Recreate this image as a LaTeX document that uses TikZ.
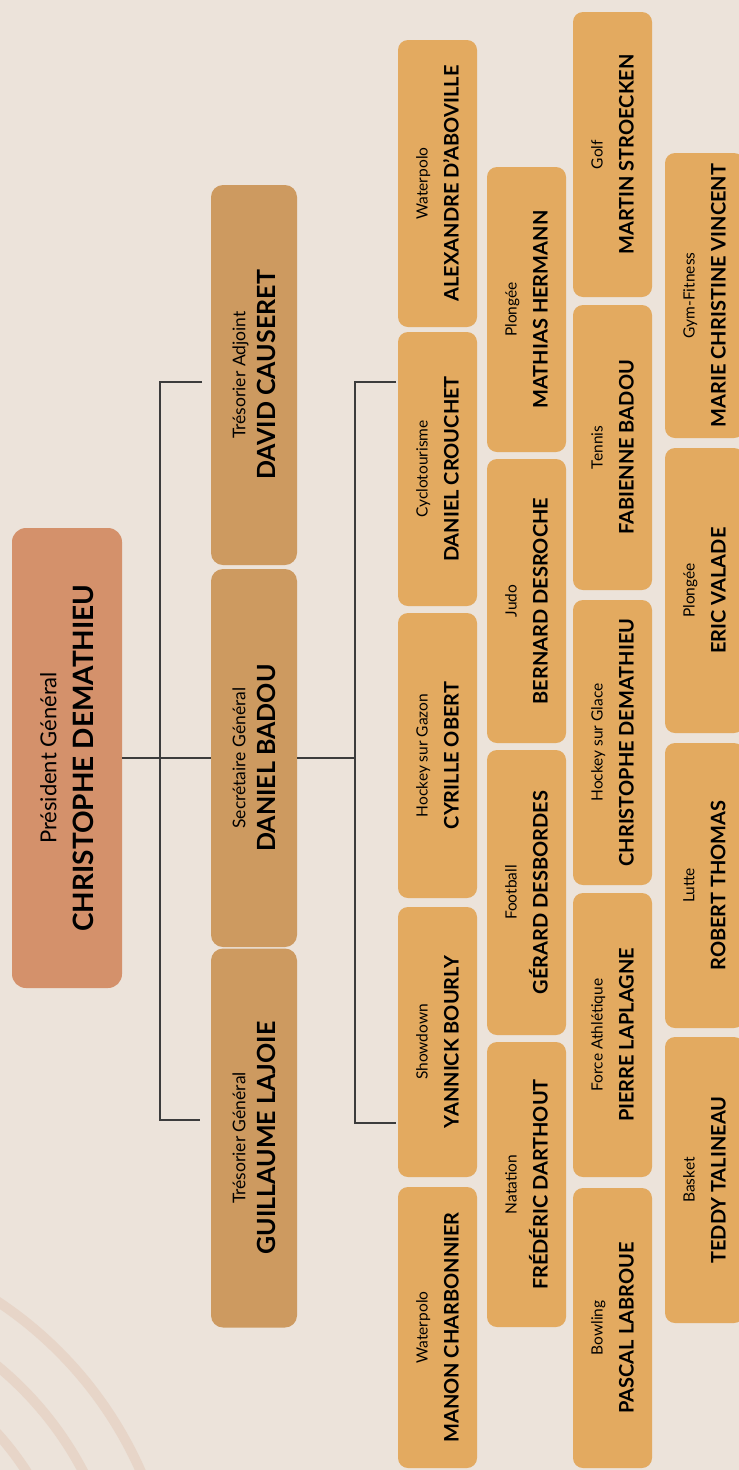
\documentclass[tikz,border=0pt]{standalone}
\usepackage{fontspec}
\setmainfont{Lato}

\definecolor{bgcol}{HTML}{ECE3DA}
\definecolor{arccol}{HTML}{E7D5C8}
\definecolor{prescol}{HTML}{D4916B}
\definecolor{boardcol}{HTML}{CD9A60}
\definecolor{sportcol}{HTML}{E3AA60}
\definecolor{linecol}{HTML}{3C3C3C}

\begin{document}
\begin{tikzpicture}[
        x=1pt, y=-1pt,
        box/.style={rotate=90, inner sep=0pt, align=center, text=black},
        presbox/.style={box, fill=prescol, rounded corners=14pt, minimum height=110pt, font=\bfseries\fontsize{28}{37}\selectfont},
        boardbox/.style={box, fill=boardcol, rounded corners=12pt, minimum height=86pt, font=\bfseries\fontsize{25}{30}\selectfont},
        sportbox/.style={box, fill=sportcol, rounded corners=10pt, minimum height=79pt, font=\bfseries\fontsize{20}{31}\selectfont},
        link/.style={draw=linecol, line width=1.5pt},
        ring/.style={draw=arccol, line width=10pt}
    ]

    % background and rings
    \useasboundingbox (0,0) rectangle (739,1470);
    \fill[bgcol] (0,0) rectangle (739,1470);
    \foreach \r in {293,342,394}
        \draw[ring] (-220,1630) circle (\r pt);

    % ==========================================
    % LEVEL 0: President
    % ==========================================
    \node[presbox, minimum width=460pt] (pres) at (67,758) {{\mdseries\fontsize{22}{24}\selectfont Président Général}\\CHRISTOPHE DEMATHIEU};

    % ==========================================
    % LEVEL 1: Bureau
    % ==========================================
    \node[boardbox, minimum width=380pt] (adj) at (254,375) {{\mdseries\fontsize{17.5}{20}\selectfont Trésorier Adjoint}\\DAVID CAUSERET};
    \node[boardbox, minimum width=378pt] (sec) at (254,758) {{\mdseries\fontsize{17.5}{20}\selectfont Secrétaire Général}\\DANIEL BADOU};
    \node[boardbox, minimum width=379pt] (tres) at (254,1138) {{\mdseries\fontsize{17.5}{20}\selectfont Trésorier Général}\\GUILLAUME LAJOIE};

    \coordinate (t1a) at (202,382);
    \coordinate (t1b) at (200,1120);
    \draw[link] (pres.south) -- (sec.north);
    \draw[link] (t1a) -- ++(-42,0) |- (t1b);

    % ==========================================
    % LEVEL 2: Sections
    % ==========================================
    \coordinate (t2a) at (396,382);
    \coordinate (t2b) at (396,1123);
    \draw[link] (sec.south) -- ++(58,0);
    \draw[link] (t2a) -- ++(-41,0) |- (t2b);

    % column 1
    \node[sportbox, minimum width=287pt] (aboville) at (437.5,183.5) {{\mdseries\fontsize{15.5}{17}\selectfont Waterpolo}\\ALEXANDRE D'ABOVILLE};
    \node[sportbox, minimum width=274pt] (crouchet) at (437.5,469) {{\mdseries\fontsize{15.5}{17}\selectfont Cyclotourisme}\\DANIEL CROUCHET};
    \node[sportbox, minimum width=285pt] (obert) at (437.5,755.5) {{\mdseries\fontsize{15.5}{17}\selectfont Hockey sur Gazon}\\CYRILLE OBERT};
    \node[sportbox, minimum width=270pt] (bourly) at (437.5,1042) {{\mdseries\fontsize{15.5}{17}\selectfont Showdown}\\YANNICK BOURLY};
    \node[sportbox, minimum width=281pt] (charbonnier) at (437.5,1327.5) {{\mdseries\fontsize{15.5}{17}\selectfont Waterpolo}\\MANON CHARBONNIER};

    % column 2
    \node[sportbox, minimum width=285pt] (hermann) at (526.5,309.5) {{\mdseries\fontsize{15.5}{17}\selectfont Plongée}\\MATHIAS HERMANN};
    \node[sportbox, minimum width=284pt] (desroche) at (526.5,601) {{\mdseries\fontsize{15.5}{17}\selectfont Judo}\\BERNARD DESROCHE};
    \node[sportbox, minimum width=285pt] (desbordes) at (526.5,892.5) {{\mdseries\fontsize{15.5}{17}\selectfont Football}\\GÉRARD DESBORDES};
    \node[sportbox, minimum width=285pt] (darthout) at (526.5,1184.5) {{\mdseries\fontsize{15.5}{17}\selectfont Natation}\\FRÉDÉRIC DARTHOUT};

    % column 3
    \node[sportbox, minimum width=285pt] (stroecken) at (612.5,154.5) {{\mdseries\fontsize{15.5}{17}\selectfont Golf}\\MARTIN STROECKEN};
    \node[sportbox, minimum width=285pt] (fbadou) at (612.5,447.5) {{\mdseries\fontsize{15.5}{17}\selectfont Tennis}\\FABIENNE BADOU};
    \node[sportbox, minimum width=285pt] (demathieu) at (612.5,742.5) {{\mdseries\fontsize{15.5}{17}\selectfont Hockey sur Glace}\\CHRISTOPHE DEMATHIEU};
    \node[sportbox, minimum width=284pt] (laplagne) at (612.5,1035) {{\mdseries\fontsize{15.5}{17}\selectfont Force Athlétique}\\PIERRE LAPLAGNE};
    \node[sportbox, minimum width=280pt] (labroue) at (612.5,1328) {{\mdseries\fontsize{15.5}{17}\selectfont Bowling}\\PASCAL LABROUE};

    % column 4
    \node[sportbox, minimum width=285pt] (vincent) at (704.5,295.5) {{\mdseries\fontsize{15.5}{17}\selectfont Gym-Fitness}\\MARIE CHRISTINE VINCENT};
    \node[sportbox, minimum width=285pt] (valade) at (704.5,590.5) {{\mdseries\fontsize{15.5}{17}\selectfont Plongée}\\ERIC VALADE};
    \node[sportbox, minimum width=285pt] (thomas) at (704.5,885.5) {{\mdseries\fontsize{15.5}{17}\selectfont Lutte}\\ROBERT THOMAS};
    \node[sportbox, minimum width=286pt] (talineau) at (704.5,1180) {{\mdseries\fontsize{15.5}{17}\selectfont Basket}\\TEDDY TALINEAU};

\end{tikzpicture}
\end{document}
